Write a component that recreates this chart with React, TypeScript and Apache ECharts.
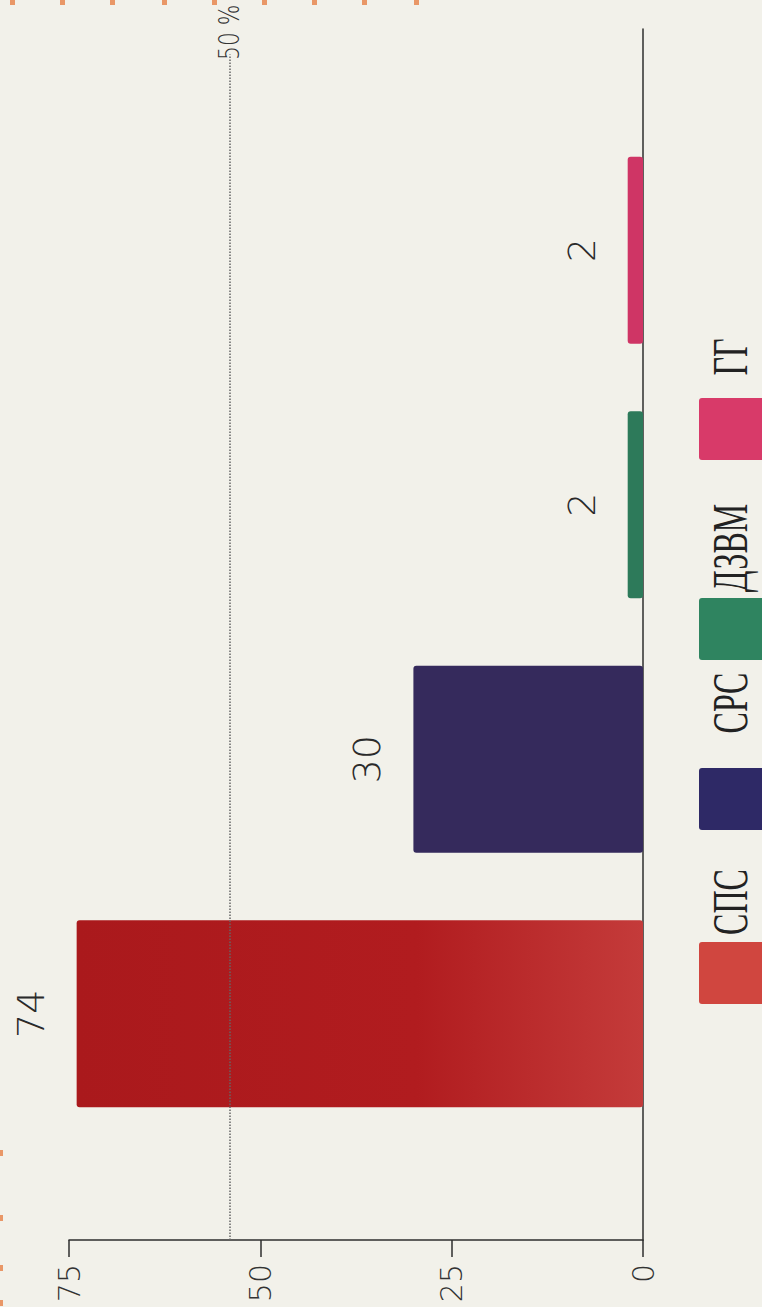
import React, { useEffect, useRef } from "react";
import * as echarts from "echarts";

// ---- data ----
const parties = ["СПС", "СРС", "ДЗВМ", "ГГ"];
const seats = [74, 30, 2, 2];
const valueTicks = [0, 25, 50, 75];
const majority = 54;
const majorityLabel = "50 %";

// ---- styles ----
const barColors = ["#b01c1f", "#352a5c", "#2d7a5a", "#cf3565"];
const legendColors = ["#d0463f", "#2e2966", "#2f8460", "#d83a69"];

export default function App() {
  const ref = useRef<HTMLDivElement>(null);

  useEffect(() => {
    document.body.style.margin = "0";
    const el = ref.current!;
    const chart = echarts.init(el, null, { renderer: "svg" });
    const H = 1307;
    const axisY = 1240;
    const axisColor = "#2e2e2e";
    const thinFont = "DejaVu Sans";

    const barData = seats.map((v, i) => ({
      value: v,
      itemStyle: {
        color:
          i === 0
            ? new echarts.graphic.LinearGradient(0, 0, 1, 0, [
                { offset: 0, color: "#aa191c" },
                { offset: 0.6, color: "#b11c1f" },
                { offset: 1, color: "#c43b3a" },
              ])
            : barColors[i],
      },
    }));

    chart.setOption({
      animation: false,
      backgroundColor: "#f2f1ea",
      grid: [
        { left: 69, right: 119, top: 29, bottom: H - axisY },
        { left: 69, right: 119, top: 123, bottom: 166 },
      ],
      xAxis: [
        {
          gridIndex: 0,
          type: "value",
          inverse: true,
          min: valueTicks[0],
          max: valueTicks[valueTicks.length - 1],
          interval: 25,
          position: "bottom",
          axisLine: { show: true, onZero: false, lineStyle: { color: axisColor, width: 1.5 } },
          axisTick: { show: true, length: 17, lineStyle: { color: axisColor, width: 1.5 } },
          axisLabel: {
            rotate: 90,
            margin: 24,
            fontSize: 30,
            fontFamily: thinFont,
            fontWeight: 200,
            color: "#333",
          },
          splitLine: { show: false },
        },
        {
          gridIndex: 1,
          type: "value",
          inverse: true,
          min: valueTicks[0],
          max: valueTicks[valueTicks.length - 1],
          show: false,
        },
      ],
      yAxis: [
        {
          gridIndex: 0,
          type: "value",
          min: 0,
          max: 1,
          position: "right",
          axisLine: { show: true, onZero: false, lineStyle: { color: axisColor, width: 1.5 } },
          axisTick: { show: false },
          axisLabel: { show: false },
          splitLine: { show: false },
        },
        { gridIndex: 1, type: "category", data: parties, show: false },
      ],
      series: [
        {
          type: "line",
          xAxisIndex: 0,
          yAxisIndex: 0,
          data: [],
          markLine: {
            silent: true,
            symbol: "none",
            label: { show: false },
            lineStyle: { type: "dotted", color: "#666", width: 1.5 },
            data: [[{ coord: [majority, 0] }, { coord: [majority, 0.979] }]],
          },
        },
        {
          type: "bar",
          xAxisIndex: 1,
          yAxisIndex: 1,
          barWidth: 187,
          data: barData,
          itemStyle: { borderRadius: 3 },
          label: {
            show: true,
            position: "left",
            distance: 27,
            rotate: 90,
            align: "center",
            verticalAlign: "bottom",
            fontSize: 38,
            fontFamily: thinFont,
            fontWeight: 200,
            color: "#2a2a2a",
          },
        },
      ],
    });

    const mx = chart.convertToPixel({ xAxisIndex: 0 }, majority) as number;

    const legendBoxTop = [942, 768, 598, 398];
    const legendTextY = [902, 703, 548, 357];
    const legendEls: any[] = [];
    parties.forEach((p, i) => {
      legendEls.push({
        type: "rect",
        shape: { x: 699, y: legendBoxTop[i], width: 80, height: 62, r: 3 },
        style: { fill: legendColors[i] },
      });
      legendEls.push({
        type: "text",
        x: 730,
        y: legendTextY[i],
        rotation: Math.PI / 2,
        scaleX: 0.64,
        style: {
          text: p,
          fontSize: 50,
          fontFamily: "Liberation Serif",
          fill: "#222",
          align: "center",
          verticalAlign: "middle",
        },
      });
    });

    const orangeMarks: any[] = [10, 60, 110, 162, 212, 262, 312, 362, 414].map((x) => ({
      type: "rect",
      shape: { x, y: 0, width: 5, height: 5 },
      style: { fill: "#e5702f", opacity: 0.7 },
    }));
    [1150, 1215, 1265, 1300].forEach((y) =>
      orangeMarks.push({
        type: "rect",
        shape: { x: 0, y, width: 3, height: 6 },
        style: { fill: "#e5702f", opacity: 0.7 },
      })
    );

    chart.setOption({
      graphic: [
        {
          type: "text",
          x: mx,
          y: 60,
          rotation: Math.PI / 2,
          scaleX: 0.78,
          style: {
            text: majorityLabel,
            fontSize: 28,
            fontFamily: thinFont,
            fontWeight: 200,
            fill: "#333",
            align: "left",
            verticalAlign: "middle",
          },
        },
        ...legendEls,
        ...orangeMarks,
      ],
    });

    return () => chart.dispose();
  }, []);

  return <div ref={ref} style={{ width: 762, height: 1307 }} />;
}
